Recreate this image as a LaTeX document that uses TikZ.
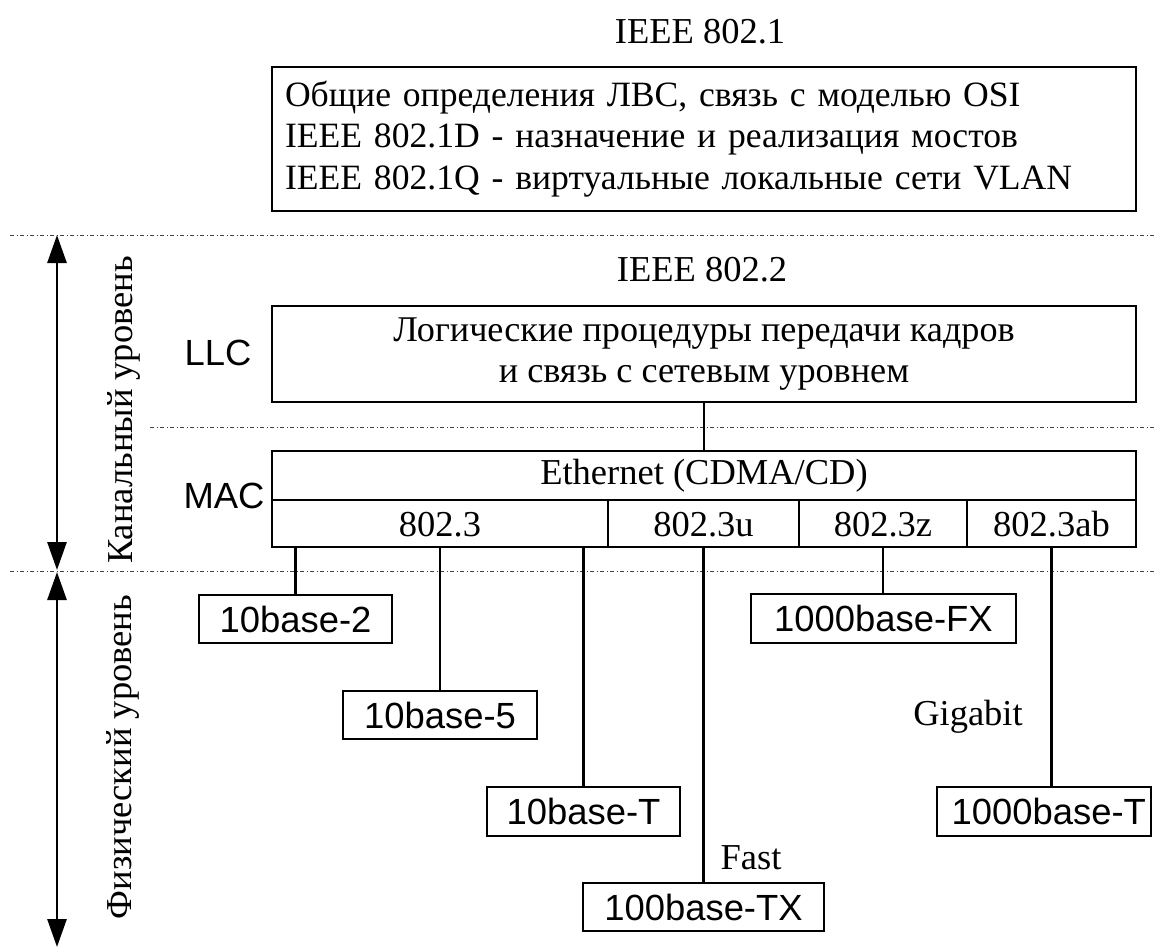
\documentclass[tikz,border=0pt]{standalone}
\usepackage{fontspec}
\setmainfont{Liberation Serif}
\setsansfont{Liberation Sans}
\usetikzlibrary{arrows.meta}
\begin{document}
\begin{tikzpicture}[x=1pt,y=-1pt,
  serif/.style={font=\fontsize{36.5}{40}\selectfont},
  sans/.style={font=\fontsize{36.4}{40}\sffamily\selectfont},
  box/.style={draw, line width=2.8pt, inner sep=0pt, outer sep=0pt},
  cell/.style={box, serif, minimum height=47pt, text height=25pt, text depth=0pt},
  phys/.style={box, sans, minimum height=48pt, text height=26pt, text depth=0pt},
  link/.style={line width=2.8pt},
  levelsep/.style={line width=1pt, black!75, dash pattern=on 4pt off 2.5pt on 1pt off 2.5pt},
  span/.style={line width=2.8pt, {Triangle[length=28pt,width=19pt]}-{Triangle[length=28pt,width=19pt]}},
]
\useasboundingbox (0,0) rectangle (1154,948);

% level separators
\coordinate (sepTopL) at (10,235);   \coordinate (sepTopR) at (1154,235);
\coordinate (sepMidL) at (150,427);  \coordinate (sepMidR) at (1154,427);
\coordinate (sepBotL) at (10,571);   \coordinate (sepBotR) at (1154,571);
\draw[levelsep] (sepTopL) -- (sepTopR);
\draw[levelsep] (sepMidL) -- (sepMidR);
\draw[levelsep] (sepBotL) -- (sepBotR);

% level extents
\coordinate (dlTop) at (57,235);  \coordinate (dlBot) at (57,570);
\coordinate (phTop) at (57,572);  \coordinate (phBot) at (57,947);
\draw[span] (dlTop) -- (dlBot);
\draw[span] (phTop) -- (phBot);
\node[serif, rotate=90, anchor=base] (dllabel) at (132,410) {Канальный уровень};
\node[serif, rotate=90, anchor=base] (phlabel) at (131,757) {Физический уровень};

% IEEE 802.1
\node[serif, anchor=base] (t8021) at (700,43) {IEEE 802.1};
\node[box, font=\fontsize{35.6}{41.5}\selectfont, inner xsep=13pt, text width=838pt, align=left, minimum height=144pt]
  (ieee1) at (704,139)
  {Общие определения ЛВС, связь с моделью OSI\\
   IEEE 802.1D - назначение и реализация мостов\\
   IEEE 802.1Q - виртуальные локальные сети VLAN};

% IEEE 802.2 / LLC
\node[serif, anchor=base] (t8022) at (702,281) {IEEE 802.2};
\node[sans] (llclabel) at (218,353) {LLC};
\node[box, font=\fontsize{36.2}{40.5}\selectfont, align=center, minimum width=864pt, minimum height=96pt] (llc) at (704,354)
  {Логические процедуры передачи кадров\\и связь с сетевым уровнем};

% MAC
\node[sans] (maclabel) at (224,496) {MAC};
\node[box, serif, minimum width=864pt, minimum height=49pt] (eth) at (704,475.5) {Ethernet (CDMA/CD)};
\node[cell, minimum width=336pt] (c1) at (440,523.5) {802.3};
\node[cell, minimum width=191pt] (c2) at (703.5,523.5) {802.3u};
\node[cell, minimum width=168pt] (c3) at (883,523.5) {802.3z};
\node[cell, minimum width=169pt] (c4) at (1051.5,523.5) {802.3ab};
\draw[link] (llc.south) -- (eth.north);

% physical media
\node[phys, minimum width=193pt] (b2) at (295.5,619) {10base-2};
\node[phys, minimum width=194pt] (b5) at (440,715) {10base-5};
\node[phys, minimum width=193pt, minimum height=49pt] (bT) at (583.5,811.5) {10base-T};
\node[phys, minimum width=241pt] (bTX) at (703.5,907) {100base-TX};
\node[phys, minimum width=265pt, minimum height=49pt] (bFX) at (883.5,618.5) {1000base-FX};
\node[phys, inner xsep=5pt, text width=204pt, align=right, minimum height=49pt] (bGT) at (1044,811.5) {1000base-T};

\draw[link] (b2.north |- c1.south) -- (b2.north);
\draw[link] (c1.south) -- (b5.north);
\draw[link] (bT.north |- c1.south) -- (bT.north);
\draw[link] (c2.south) -- (c2.south |- bTX.north);
\draw[link] (c3.south) -- (c3.south |- bFX.north);
\draw[link] (c4.south) -- (c4.south |- bGT.north);

\node[serif, anchor=base] (fast) at (751,869) {Fast};
\node[serif, anchor=base] (giga) at (968,725) {Gigabit};
\end{tikzpicture}
\end{document}
